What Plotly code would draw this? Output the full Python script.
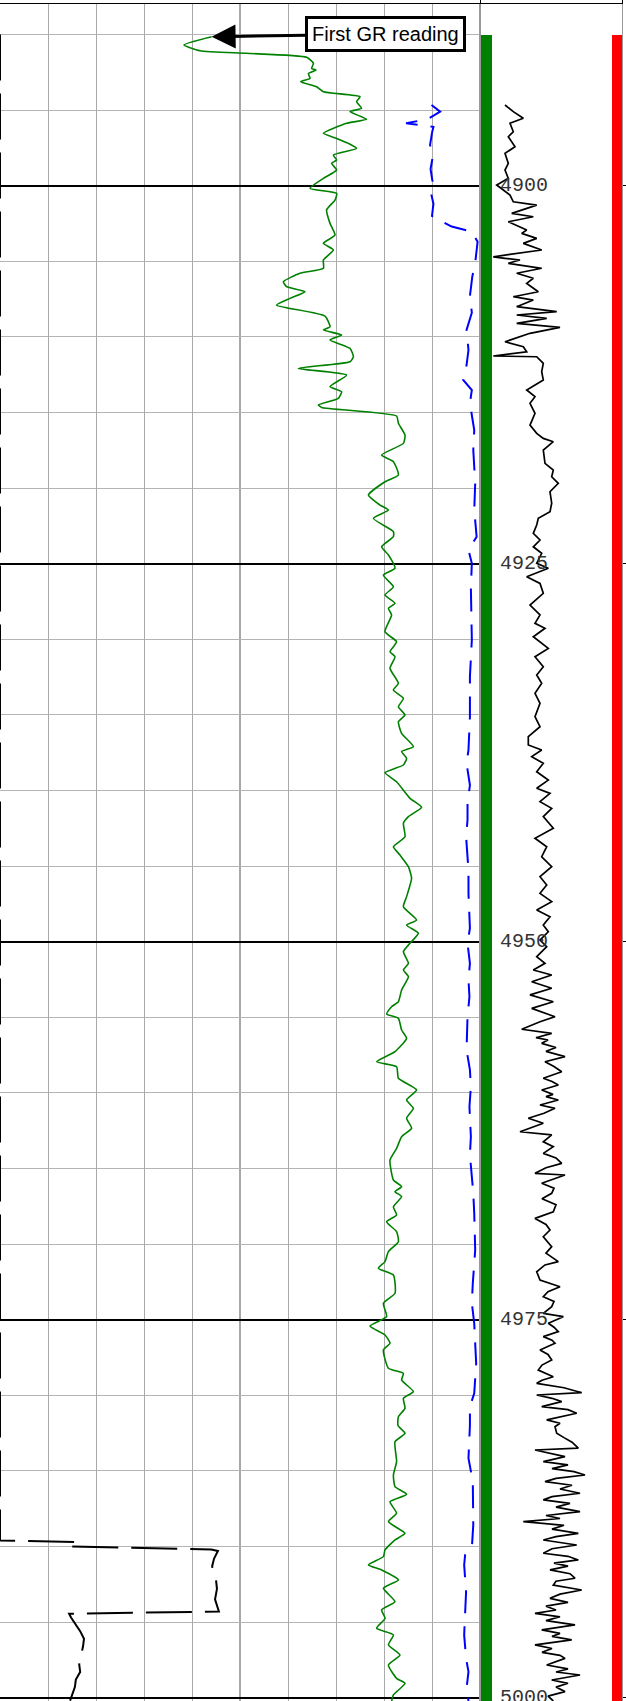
import plotly.graph_objects as go

# ---------------- Track 1: gamma ray (API) ----------------
gr_depth = [4890.15, 4890.69, 4891.07, 4891.24, 4891.5, 4891.9, 4892.24, 4892.35, 4892.57, 4892.9,
            4893.12, 4893.45, 4893.78, 4894.11, 4894.44, 4894.88, 4895.1, 4895.6, 4895.87, 4896.53,
            4896.87, 4897.2, 4897.53, 4897.97, 4898.3, 4898.52, 4898.96, 4899.51, 4900.17, 4900.5,
            4900.95, 4901.6, 4902.49, 4903.26, 4903.81, 4904.25, 4904.91, 4905.46, 4905.79, 4906.35,
            4906.68, 4907.01, 4907.45, 4907.89, 4908.62, 4909.33, 4909.54, 4909.87, 4910.2, 4910.75,
            4911.31, 4911.64, 4912.08, 4912.52, 4913.29, 4913.62, 4914.06, 4914.5, 4914.66, 4915.23,
            4915.71, 4916.49, 4917.04, 4917.81, 4918.25, 4919.13, 4919.58, 4920.46, 4921.12, 4921.45,
            4922.0, 4922.88, 4923.21, 4923.88, 4924.42, 4925.3, 4925.75, 4926.52, 4927.07, 4927.62,
            4927.95, 4928.39, 4929.5, 4930.16, 4930.82, 4931.15, 4931.92, 4932.91, 4933.35, 4933.9,
            4934.46, 4935.0, 4935.45, 4936.22, 4937.1, 4937.43, 4937.87, 4938.31, 4938.82, 4939.42,
            4940.52, 4941.11, 4941.73, 4942.17, 4943.06, 4943.72, 4944.27, 4945.04, 4945.81, 4947.02,
            4947.69, 4948.57, 4948.9, 4949.44, 4950.1, 4950.66, 4951.43, 4951.87, 4952.31, 4953.19,
            4953.97, 4954.3, 4954.78, 4955.07, 4955.84, 4956.39, 4957.27, 4957.94, 4958.27, 4959.03,
            4959.81, 4960.47, 4961.02, 4961.68, 4962.34, 4962.9, 4963.67, 4964.44, 4965.76, 4966.2,
            4966.53, 4966.86, 4967.53, 4968.07, 4968.52, 4969.18, 4969.84, 4970.5, 4971.16, 4971.6,
            4972.04, 4973.25, 4973.91, 4974.8, 4975.42, 4976.01, 4976.56, 4977.0, 4978.21, 4978.55,
            4978.99, 4979.76, 4980.2, 4980.86, 4981.42, 4982.0, 4982.51, 4983.07, 4984.39, 4985.27,
            4986.04, 4986.55, 4987.04, 4987.8, 4988.36, 4989.13, 4989.57, 4990.23, 4990.67, 4991.22,
            4991.55, 4992.21, 4992.76, 4993.65, 4994.2, 4994.75, 4995.41, 4995.85, 4996.51, 4997.18,
            4997.84, 4998.72, 4999.05, 4999.82, 5000.22]
gr_api = [105.8, 92.0, 100.0, 123.3, 153.3, 156.7, 155.8, 158.0, 154.2, 155.0,
          150.3, 158.3, 161.7, 180.0, 178.3, 180.8, 175.0, 183.3, 173.3, 161.7,
          168.3, 174.2, 178.3, 166.7, 168.3, 165.8, 168.3, 161.7, 155.0, 168.3,
          167.5, 163.3, 165.0, 167.5, 161.7, 166.7, 161.7, 161.7, 150.0, 141.7,
          143.3, 152.5, 145.0, 138.3, 162.5, 165.0, 161.7, 170.8, 165.0, 175.0,
          176.7, 175.0, 149.2, 173.3, 165.0, 170.8, 169.2, 159.2, 160.8, 198.3,
          199.2, 202.5, 201.7, 190.8, 196.7, 199.2, 192.5, 184.2, 190.0, 194.2,
          186.7, 196.7, 196.7, 190.8, 194.2, 197.5, 191.7, 196.7, 192.5, 197.5,
          194.2, 195.8, 192.5, 198.3, 195.0, 197.5, 195.0, 199.2, 196.7, 201.7,
          199.2, 202.5, 199.2, 200.8, 206.7, 200.8, 203.3, 201.7, 192.5, 198.3,
          205.0, 210.8, 204.2, 201.7, 202.5, 196.7, 200.0, 204.2, 205.8, 203.3,
          201.7, 208.3, 203.3, 209.2, 205.0, 201.7, 204.2, 201.7, 204.2, 200.8,
          199.2, 195.8, 193.3, 199.2, 200.8, 203.3, 197.5, 188.3, 198.3, 199.2,
          208.3, 203.3, 206.7, 203.3, 205.8, 200.8, 198.3, 195.0, 196.7, 200.8,
          197.5, 200.8, 196.7, 198.3, 193.3, 198.3, 199.2, 194.2, 192.5, 189.2,
          196.7, 197.5, 191.7, 193.3, 185.0, 192.5, 195.0, 191.7, 194.2, 201.7,
          200.8, 206.7, 201.7, 202.5, 199.2, 199.0, 202.5, 197.5, 198.3, 196.7,
          197.5, 203.3, 195.0, 198.3, 194.2, 202.5, 197.5, 192.5, 191.7, 184.2,
          190.8, 199.2, 191.7, 197.5, 190.8, 192.5, 188.3, 196.7, 194.2, 200.0,
          194.2, 198.3, 202.5, 196.7, 195.8]

# ---------------- Track 1: caliper (in) ----------------
cal_depth = [4894.66, 4895.1, 4895.35, 4895.6, 4895.87, 4896.1, 4896.5, 4897.3, 4898.0, 4898.9,
             4899.7, 4900.5, 4901.2, 4902.0, 4902.3, 4902.7, 4903.04, 4903.7, 4905.1, 4906.0,
             4907.3, 4908.4, 4909.54, 4910.87, 4911.86, 4912.85, 4913.51, 4914.39, 4916.16, 4917.48,
             4919.68, 4921.45, 4923.21, 4924.09, 4924.97, 4926.6, 4930.05, 4932.47, 4935.12, 4937.32,
             4938.2, 4939.64, 4940.85, 4941.95, 4943.06, 4944.38, 4945.26, 4946.8, 4949.11, 4950.1,
             4951.43, 4952.53, 4953.64, 4954.96, 4957.16, 4958.48, 4959.59, 4960.91, 4962.9, 4964.1,
             4966.63, 4967.96, 4970.39, 4972.59, 4973.91, 4975.24, 4977.88, 4979.87, 4980.75, 4982.0,
             4984.16, 4985.71, 4988.57, 4990.11, 4990.56, 4991.22, 4992.99, 4995.85, 4997.4, 4998.28,
             4999.38, 5000.22]
cal_in = [14.99, 15.17, 15.04, 14.9, 14.46, 15.03, 15.0, 14.96, 15.02, 14.97,
          15.01, 14.98, 15.03, 15.0, 15.17, 15.41, 15.83, 15.95, 15.9, 15.84,
          15.79, 15.83, 15.72, 15.76, 15.72, 15.65, 15.83, 15.79, 15.88, 15.86,
          15.9, 15.88, 15.93, 15.76, 15.83, 15.81, 15.83, 15.79, 15.79, 15.76,
          15.72, 15.79, 15.74, 15.74, 15.71, 15.74, 15.76, 15.76, 15.79, 15.74,
          15.79, 15.76, 15.78, 15.74, 15.72, 15.79, 15.81, 15.78, 15.81, 15.79,
          15.86, 15.88, 15.9, 15.85, 15.83, 15.88, 15.92, 15.88, 15.79, 15.79,
          15.76, 15.85, 15.86, 15.83, 15.69, 15.67, 15.71, 15.67, 15.71, 15.76,
          15.72, 15.76]

# ---------------- Track 1: SP (mV) ----------------
sp_depth = [4890.0, 4989.6, 4989.7, 4990.0, 4990.2, 4990.3, 4990.8, 4991.3, 4991.8, 4992.2,
            4992.8, 4993.5, 4994.3, 4994.45, 4994.7, 4995.2, 4995.6, 4996.1, 4996.6, 4997.2,
            4997.8, 4998.3, 4998.8, 4999.3, 5000.2]
sp_mv = [-100.0, -100.0, -84.0, -85.4, -56.0, -54.6, -55.4, -55.8, -55.6, -55.0,
         -54.8, -55.2, -54.4, -85.6, -85.2, -84.2, -83.3, -82.5, -82.7, -83.1,
         -83.5, -83.3, -84.2, -84.4, -85.4]

# ---------------- Track 2: resistivity (ohm.m) ----------------
rt_depth = [4894.66, 4895.1, 4895.54, 4895.87, 4896.43, 4896.76, 4897.42, 4897.86, 4898.52, 4898.96,
            4899.51, 4899.95, 4900.62, 4901.06, 4901.28, 4901.83, 4902.05, 4902.38, 4902.93, 4903.15,
            4903.48, 4903.81, 4904.25, 4904.47, 4904.7, 4904.8, 4904.91, 4905.13, 4905.46, 4905.79,
            4906.12, 4906.46, 4907.01, 4907.34, 4907.56, 4908.0, 4908.33, 4908.55, 4908.77, 4909.1,
            4909.37, 4909.76, 4910.32, 4910.65, 4910.98, 4911.26, 4911.31, 4911.75, 4912.3, 4912.85,
            4913.51, 4913.95, 4914.39, 4915.05, 4915.83, 4916.38, 4916.71, 4916.93, 4917.48, 4918.36,
            4918.8, 4919.25, 4919.68, 4920.24, 4921.0, 4921.56, 4922.0, 4922.44, 4922.99, 4923.43,
            4923.88, 4924.31, 4924.97, 4925.3, 4925.86, 4926.3, 4926.96, 4927.73, 4928.39, 4928.94,
            4929.27, 4929.83, 4930.6, 4931.15, 4931.81, 4932.36, 4932.91, 4933.57, 4934.23, 4935.12,
            4935.78, 4936.44, 4936.99, 4937.32, 4937.76, 4938.2, 4938.76, 4939.31, 4939.85, 4940.19,
            4940.74, 4941.18, 4941.73, 4942.5, 4943.16, 4943.72, 4944.38, 4945.04, 4945.7, 4946.25,
            4946.8, 4947.35, 4947.9, 4948.35, 4948.9, 4949.34, 4949.89, 4950.33, 4950.99, 4951.43,
            4951.87, 4952.2, 4952.65, 4953.08, 4953.52, 4953.97, 4954.41, 4954.96,
            4955.29, 4955.79, 4956.06, 4956.35, 4956.5, 4956.72, 4957.0, 4957.25, 4957.6, 4957.94,
            4958.25, 4958.6, 4959.03, 4959.25, 4959.48, 4959.81, 4960.1, 4960.25, 4960.47, 4960.8,
            4961.02, 4961.35, 4961.68, 4962.01, 4962.57, 4962.78, 4963.23, 4963.56, 4964.0, 4964.3,
            4964.66, 4964.95, 4965.32, 4965.43, 4965.98, 4966.3, 4966.64, 4967.0, 4967.4, 4967.86,
            4968.3, 4968.7, 4969.07, 4969.51, 4970.17, 4970.6, 4971.16, 4971.38, 4971.83, 4972.38,
            4972.82, 4973.15, 4973.48, 4973.8, 4974.14, 4974.58, 4974.8, 4975.24, 4975.5, 4975.79,
            4976.12, 4976.35, 4976.56, 4977.0, 4977.3, 4977.66, 4978.0, 4978.33, 4978.77, 4979.0,
            4979.21, 4979.5, 4979.83, 4979.98, 4980.2, 4980.42, 4980.75, 4980.95, 4981.19, 4981.63,
            4981.85, 4982.08, 4982.51, 4982.8, 4983.1, 4983.5, 4983.62, 4984.06, 4984.39, 4984.6,
            4984.85, 4985.05, 4985.27, 4985.5, 4985.71, 4985.95, 4986.2, 4986.48, 4986.7, 4986.92,
            4987.15, 4987.4, 4987.7, 4987.95, 4988.15, 4988.36, 4988.6, 4988.85, 4989.13, 4989.35,
            4989.57, 4989.9, 4990.15, 4990.45, 4990.65, 4990.89, 4991.1, 4991.3, 4991.55, 4991.8,
            4992.1, 4992.3, 4992.55, 4992.88, 4993.15, 4993.43, 4993.7, 4993.95, 4994.2, 4994.42,
            4994.65, 4994.9, 4995.19, 4995.52, 4995.75, 4995.95, 4996.18, 4996.51, 4996.75, 4997.0,
            4997.2, 4997.4, 4997.84, 4998.1, 4998.3, 4998.5, 4998.83, 4999.05, 4999.3, 4999.6,
            4999.9, 5000.22]
rt_ohmm = [12.5, 16.65, 21.65, 15.0, 16.65, 14.15, 17.5, 12.5, 14.15, 12.5,
           14.15, 8.35, 15.0, 16.65, 28.35, 15.85, 26.65, 14.15, 23.35, 20.85,
           28.35, 21.65, 30.85, 20.0, 6.65, 12.5, 20.0, 14.15, 30.85, 18.35,
           26.65, 23.35, 29.15, 16.65, 26.65, 18.35, 38.35, 18.35, 33.35, 18.35,
           40.0, 25.0, 12.5, 21.65, 23.35, 6.65, 28.35, 31.65, 30.85, 31.65,
           23.35, 27.5, 25.0, 27.5, 25.0, 28.35, 31.65, 36.65, 31.65, 32.5,
           36.65, 35.85, 39.15, 35.0, 35.85, 35.0, 29.15, 28.35, 26.65, 30.0,
           26.65, 30.85, 28.35, 34.15, 23.35, 30.0, 31.65, 25.0, 30.0, 27.5,
           32.5, 26.65, 34.15, 27.5, 31.65, 28.35, 30.85, 27.5, 30.0, 27.5,
           30.0, 24.15, 24.15, 30.85, 25.85, 31.65, 28.35, 34.15, 28.35, 35.0,
           30.0, 35.85, 31.65, 36.65, 27.5, 33.35, 30.85, 35.85, 30.0, 33.35,
           30.0, 35.85, 28.35, 35.0, 31.65, 34.15, 30.0, 33.35, 28.35, 32.5,
           26.65, 35.85, 25.85, 35.85, 25.0, 36.65, 25.85, 37.5,
           30.0, 20.85, 35.85, 28.0, 34.0, 30.85, 38.0, 33.0, 42.5, 32.5,
           37.0, 40.85, 31.65, 36.0, 39.15, 30.85, 36.5, 33.0, 39.15, 30.0,
           37.5, 32.0, 24.15, 31.65, 20.0, 35.85, 31.65, 36.65, 31.65, 38.0,
           40.85, 33.0, 27.5, 42.5, 30.85, 37.0, 35.85, 31.0, 38.0, 36.65,
           27.5, 33.0, 35.0, 31.65, 35.85, 33.0, 39.15, 32.5, 28.35, 30.0,
           40.0, 34.0, 31.65, 37.0, 35.85, 31.65, 41.65, 34.15, 37.0, 39.15,
           31.65, 36.0, 37.5, 30.0, 34.0, 35.85, 31.0, 29.15, 36.65, 31.0,
           28.35, 42.0, 50.85, 28.35, 36.0, 40.85, 30.85, 44.0, 48.35, 33.35,
           40.0, 37.5, 38.35, 42.0, 46.0, 49.15, 27.5, 42.5, 31.65, 44.0,
           36.0, 47.0, 52.5, 38.0, 32.5, 46.0, 40.0, 50.0, 36.0, 31.65,
           45.0, 38.0, 50.0, 33.0, 40.0, 21.65, 42.0, 36.0, 49.15, 38.0,
           31.65, 48.35, 36.0, 31.65, 44.0, 49.15, 37.0, 44.0, 35.0, 45.0,
           47.5, 38.0, 36.65, 50.85, 40.0, 35.0, 44.0, 33.0, 38.0, 27.5,
           40.0, 33.0, 47.5, 30.85, 40.0, 36.0, 45.85, 27.5, 36.0, 31.0,
           40.0, 42.5, 33.35, 44.0, 38.0, 50.0, 35.85, 44.0, 38.0, 42.5,
           34.0, 36.65]

# ---------------- Track 2: flag strips (top / base depth) ----------------
flag_top = 4890.0
flag_base = 5000.4
depth_labels = [4900, 4925, 4950, 4975, 5000]

# ---------------- layout geometry ----------------
W, H = 626, 1701
M_L, M_R, M_T, M_B = 0, 4, 4, 0
PW = W - M_L - M_R
T1_END = 480 / PW
GREEN_DOM = [480 / PW, 492 / PW]
RED_DOM = [612 / PW, 1.0]
DEPTH_RANGE = [5000.22, 4887.98]

fig = go.Figure()

fig.add_trace(go.Scatter(x=sp_mv, y=sp_depth, mode="lines", xaxis="x3", yaxis="y",
                         line=dict(color="black", width=2, dash="46px,13px"),
                         showlegend=False, hoverinfo="skip"))
fig.add_trace(go.Scatter(x=cal_in, y=cal_depth, mode="lines", xaxis="x2", yaxis="y",
                         line=dict(color="#0000ff", width=2, dash="23px,13px"),
                         showlegend=False, hoverinfo="skip"))
fig.add_trace(go.Scatter(x=gr_api, y=gr_depth, mode="lines", xaxis="x", yaxis="y",
                         line=dict(color="#008000", width=1.6, shape="spline", smoothing=0.5),
                         showlegend=False, hoverinfo="skip"))
fig.add_trace(go.Scatter(x=rt_ohmm, y=rt_depth, mode="lines", xaxis="x4", yaxis="y2",
                         line=dict(color="black", width=1.7),
                         showlegend=False, hoverinfo="skip"))

thick = flag_base - flag_top
mid = (flag_base + flag_top) / 2
fig.add_trace(go.Bar(orientation="h", y=[mid], x=[1], base=[0], width=[thick],
                     marker=dict(color="#008000", line=dict(width=0)),
                     xaxis="x5", yaxis="y2", showlegend=False, hoverinfo="skip"))
fig.add_trace(go.Bar(orientation="h", y=[mid], x=[1], base=[0], width=[thick],
                     marker=dict(color="#ff0000", line=dict(width=0)),
                     xaxis="x6", yaxis="y2", showlegend=False, hoverinfo="skip"))

fig.update_layout(
    width=W, height=H,
    margin=dict(l=M_L, r=M_R, t=M_T, b=M_B, autoexpand=False),
    paper_bgcolor="white", plot_bgcolor="rgba(0,0,0,0)",
    showlegend=False,
    xaxis=dict(domain=[0, T1_END], range=[0, 240], anchor="y", side="top",
               showline=True, linecolor="black", linewidth=1,
               tickvals=[24, 48, 72, 96, 144, 168, 192, 216], ticks="",
               showticklabels=False, showgrid=True, gridcolor="#aaaaaa",
               gridwidth=1, zeroline=False),
    xaxis2=dict(overlaying="x", range=[6, 16], visible=False),
    xaxis3=dict(overlaying="x", range=[-100, 0], visible=False),
    yaxis=dict(domain=[0, 1], range=DEPTH_RANGE, anchor="x",
               tick0=4900, dtick=25, showgrid=True, gridcolor="black", gridwidth=1.5,
               minor=dict(tick0=4900, dtick=5, showgrid=True, gridcolor="#b4b4b4", gridwidth=1),
               showticklabels=False, ticks="", zeroline=False, showline=False),
    xaxis4=dict(domain=[T1_END, 1.0], range=[0, 71], anchor="y2", side="top",
                showline=True, linecolor="black", linewidth=1,
                tickvals=[0, 71], ticks="outside", ticklen=4, tickcolor="black",
                showticklabels=False, showgrid=False, zeroline=False),
    yaxis2=dict(matches="y", anchor="x4", side="right",
                showline=True, linecolor="#999999", linewidth=1,
                tick0=4900, dtick=25, ticks="outside", ticklen=4, tickcolor="black",
                showticklabels=False, showgrid=False, zeroline=False),
    xaxis5=dict(domain=GREEN_DOM, range=[0, 1], anchor="y2", visible=False),
    xaxis6=dict(domain=RED_DOM, range=[0, 1], anchor="y2", visible=False),
    bargap=0,
)

# darker centre line and track divider
fig.add_shape(type="line", xref="x", yref="paper", x0=120, x1=120, y0=0, y1=1,
              line=dict(color="#8c8c8c", width=1.5), layer="between")
fig.add_shape(type="line", xref="paper", yref="paper", x0=T1_END, x1=T1_END, y0=0, y1=1,
              line=dict(color="#999999", width=2), layer="above")

for d in depth_labels:
    fig.add_annotation(x=9, y=d, xref="x4", yref="y2", text=str(d), showarrow=False,
                       xanchor="left", yanchor="middle",
                       font=dict(family="Liberation Mono", size=20, color="#333333"))

fig.add_annotation(x=gr_api[0], y=gr_depth[0], xref="x", yref="y",
                   text="First GR reading", showarrow=True,
                   ax=174, ay=-3, axref="pixel", ayref="pixel",
                   arrowhead=2, arrowsize=1.6, arrowwidth=3, arrowcolor="black", standoff=0,
                   font=dict(family="Liberation Sans", size=20, color="black"),
                   bgcolor="white", bordercolor="black", borderwidth=3, borderpad=4)

fig.write_html("out.html")
